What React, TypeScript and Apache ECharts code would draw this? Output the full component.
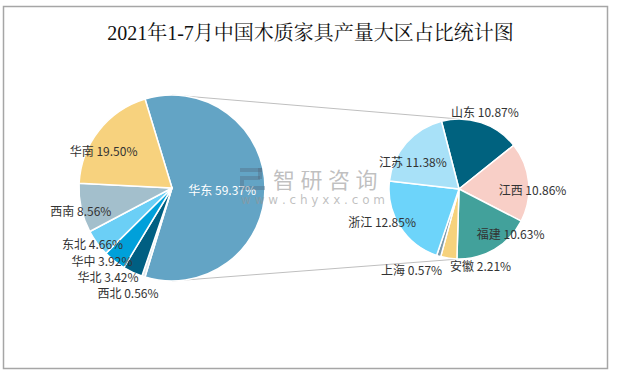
import React, { useEffect, useRef } from "react";
import * as echarts from "echarts";

// ---------- data ----------
const TITLE = "2021年1-7月中国木质家具产量大区占比统计图";

const regionNames = ["华东", "西北", "华北", "华中", "东北", "西南", "华南"];
const regionValues = [59.37, 0.56, 3.42, 3.92, 4.66, 8.56, 19.5];

const provinceNames = ["山东", "江西", "福建", "安徽", "上海", "浙江", "江苏"];
const provinceValues = [10.87, 10.86, 10.63, 2.21, 0.57, 12.85, 11.38];

// ---------- styles / layout ----------
const regionColors = ["#63A4C5", "#DCE7EC", "#005F82", "#00A0DA", "#6BCFF6", "#A3BFCC", "#F7D27E"];
const provinceColors = ["#00627F", "#F8CFC7", "#42A19B", "#F6D27C", "#7D9AAB", "#6DD4FA", "#A8E1F8"];

const LEFT = { cx: 172, cy: 188, r: 93 };
const RIGHT = { cx: 459, cy: 189, r: 70, startAngle: 104.5 };

// label placement: radial factor and angular shift (deg) from each slice's mid-angle
const leftLabelK = [0.54, 1.216, 1.177, 1.087, 1.04, 1.01, 0.84];
const leftLabelShift = [2, 5.0, 10.7, 5.6, 1.5, -1.4, -9.1];
const rightLabelK = [1.17, 1.05, 0.97, 1.13, 1.34, 1.19, 0.77];
const rightLabelShift = [0, 5.7, -19, -24.3, 13.5, 9.8, -9.8];

const LABEL_FONT = "'Microsoft YaHei', 'Noto Sans CJK SC', sans-serif";

function midAngles(values: number[], startAngle: number): number[] {
  const total = values.reduce((a, b) => a + b, 0);
  let acc = 90 - startAngle; // compass degrees clockwise from top
  return values.map((v) => {
    const span = (v / total) * 360;
    const mid = acc + span / 2;
    acc += span;
    return mid;
  });
}

export default function App() {
  const ref = useRef<HTMLDivElement>(null);

  useEffect(() => {
    if (!ref.current) return;
    const chart = echarts.init(ref.current, undefined, { renderer: "svg" });

    const leftTotal = regionValues.reduce((a, b) => a + b, 0);
    const leftStart = (180 * regionValues[0]) / leftTotal; // first slice centred at 3 o'clock
    const leftMids = midAngles(regionValues, leftStart);
    const rightMids = midAngles(provinceValues, RIGHT.startAngle);

    const place = (geo: { cx: number; cy: number; r: number }, mid: number, k: number, shift: number) => {
      const a = ((mid + shift) * Math.PI) / 180;
      return { x: geo.cx + geo.r * k * Math.sin(a), y: geo.cy - geo.r * k * Math.cos(a) };
    };

    const wmChars = ["智", "研", "咨", "询"];
    const wmColor = "rgba(150,150,150,0.6)";
    const logoColor = "rgba(80,100,120,0.35)";

    const graphic: any[] = [
      {
        type: "rect",
        z: 0,
        shape: { x: 3.5, y: 6.5, width: 604, height: 362 },
        style: { fill: "none", stroke: "#A6A6A6", lineWidth: 1.5 },
      },
      {
        type: "line",
        z: 0,
        shape: { x1: LEFT.cx, y1: LEFT.cy - LEFT.r, x2: RIGHT.cx, y2: RIGHT.cy - RIGHT.r },
        style: { stroke: "#BFBFBF", lineWidth: 1 },
      },
      {
        type: "line",
        z: 0,
        shape: { x1: LEFT.cx, y1: LEFT.cy + LEFT.r, x2: RIGHT.cx, y2: RIGHT.cy + RIGHT.r },
        style: { stroke: "#BFBFBF", lineWidth: 1 },
      },
      // watermark logo
      { type: "rect", z: 100, shape: { x: 240, y: 168, width: 22, height: 4 }, style: { fill: logoColor } },
      { type: "rect", z: 100, shape: { x: 258, y: 168, width: 4, height: 11 }, style: { fill: logoColor } },
      { type: "rect", z: 100, shape: { x: 244, y: 176, width: 16, height: 4 }, style: { fill: logoColor } },
      { type: "rect", z: 100, shape: { x: 240, y: 176, width: 4, height: 14 }, style: { fill: logoColor } },
      { type: "rect", z: 100, shape: { x: 244, y: 186, width: 21, height: 4 }, style: { fill: logoColor } },
      ...wmChars.map((c, i) => ({
        type: "text",
        z: 100,
        x: 273 + i * 27.5,
        y: 166,
        style: { text: c, fill: wmColor, fontSize: 22, lineHeight: 24, fontFamily: "'Noto Sans CJK SC', sans-serif" },
      })),
      {
        type: "text",
        z: 100,
        x: 241,
        y: 194,
        style: {
          text: "w w w . c h y x x . c o m",
          fill: wmColor,
          fontSize: 12,
          fontFamily: "'DejaVu Sans', sans-serif",
        },
      },
    ];

    const fmt = (p: any) => `${p.name} ${Number(p.value).toFixed(2)}%`;

    const labelStyle = {
      show: true,
      position: "inside",
      formatter: fmt,
      fontSize: 12,
      lineHeight: 13,
      color: "#333",
      fontFamily: LABEL_FONT,
    };

    chart.setOption({
      animation: false,
      backgroundColor: "#ffffff",
      title: {
        text: TITLE,
        left: "center",
        top: 18,
        textStyle: {
          fontSize: 20,
          fontWeight: "normal",
          color: "#111",
          fontFamily: "'Liberation Serif', 'Noto Serif CJK SC', serif",
        },
      },
      graphic,
      series: [
        {
          type: "pie",
          center: [LEFT.cx, LEFT.cy],
          radius: LEFT.r,
          startAngle: leftStart,
          clockwise: true,
          avoidLabelOverlap: false,
          itemStyle: { borderColor: "#fff", borderWidth: 1.5 },
          label: labelStyle,
          labelLine: { show: false },
          labelLayout: (p: any) => {
            const i = p.dataIndex;
            const pt = place(LEFT, leftMids[i], leftLabelK[i], leftLabelShift[i]);
            return { x: pt.x, y: pt.y, align: "center", verticalAlign: "middle" };
          },
          data: regionNames.map((n, i) => ({
            name: n,
            value: regionValues[i],
            itemStyle: { color: regionColors[i] },
            label: i === 0 ? { color: "#fff" } : undefined,
          })),
        },
        {
          type: "pie",
          center: [RIGHT.cx, RIGHT.cy],
          radius: RIGHT.r,
          startAngle: RIGHT.startAngle,
          clockwise: true,
          avoidLabelOverlap: false,
          itemStyle: { borderColor: "#fff", borderWidth: 1.5 },
          label: labelStyle,
          labelLine: { show: false },
          labelLayout: (p: any) => {
            const i = p.dataIndex;
            const pt = place(RIGHT, rightMids[i], rightLabelK[i], rightLabelShift[i]);
            return { x: pt.x, y: pt.y, align: "center", verticalAlign: "middle" };
          },
          data: provinceNames.map((n, i) => ({
            name: n,
            value: provinceValues[i],
            itemStyle: { color: provinceColors[i] },
          })),
        },
      ],
    });

    return () => chart.dispose();
  }, []);

  return (
    <div
      ref={ref}
      style={{ position: "fixed", left: 0, top: 0, width: 621, height: 373, background: "#fff" }}
    />
  );
}
